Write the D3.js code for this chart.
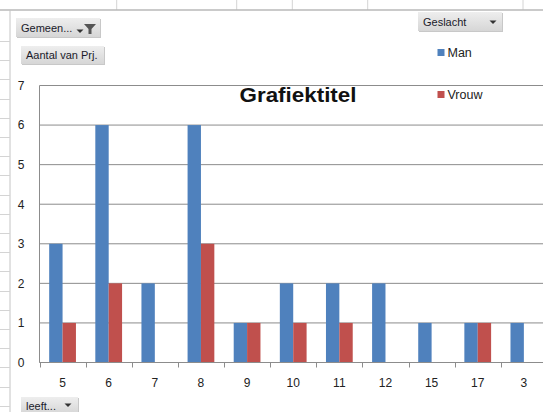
<!DOCTYPE html>
<html><head><meta charset="utf-8">
<script src="https://cdn.jsdelivr.net/npm/d3@7"></script>
<style>html,body{margin:0;padding:0;background:#fff;overflow:hidden}svg{display:block}text{font-family:"Liberation Sans",Arial,sans-serif}</style>
</head><body><svg id="c" width="543" height="412"></svg>
<script>
const categories = ["5","6","7","8","9","10","11","12","15","17","3"];
const seriesNames = ["Man","Vrouw"];
const manValues = [3,6,2,6,1,2,2,2,1,1,1];
const vrouwValues = [1,2,0,3,1,1,1,0,0,1,0];
const yTicks = [0,1,2,3,4,5,6,7];
const title = "Grafiektitel";

const colors = {Man:"#4f81bd", Vrouw:"#c0504d"};
const svg = d3.select("#c");

// spreadsheet background
const bg = svg.append("g");
[116.7,236.7,292.3,367.7,523].forEach(x=>bg.append("line").attr("x1",x).attr("x2",x).attr("y1",0).attr("y2",10).attr("stroke","#d4d4d4"));
bg.append("line").attr("x1",0).attr("x2",543).attr("y1",10).attr("y2",10).attr("stroke","#b8b8b8").attr("stroke-width",1.5);
bg.append("line").attr("x1",10).attr("x2",10).attr("y1",10).attr("y2",412).attr("stroke","#c4c4c4");
for(let y=41;y<412;y+=19.2) bg.append("line").attr("x1",0).attr("x2",10).attr("y1",Math.round(y)+0.5).attr("y2",Math.round(y)+0.5).attr("stroke","#d4d4d4");

// scales
const left = 39.5, step = 46.13, n = categories.length;
const p = 0.42;
const x0 = d3.scaleBand().domain(categories).range([left, left + step*n]).paddingInner(p).paddingOuter(p/2);
const x1 = d3.scaleBand().domain(seriesNames).range([0, x0.bandwidth()]);
const y = d3.scaleLinear().domain([0,7]).range([362.5, 85.5]);

// gridlines
svg.append("g").selectAll("line").data(yTicks).join("line")
  .attr("x1",left).attr("x2",543).attr("y1",d=>y(d)).attr("y2",d=>y(d))
  .attr("stroke","#8c8c8c").attr("stroke-width",1);
// y axis line
svg.append("line").attr("x1",left).attr("x2",left).attr("y1",y(7)).attr("y2",y(0)).attr("stroke","#8c8c8c");

// bars
const data = categories.map((c,i)=>({c, vals:[{s:"Man",v:manValues[i]},{s:"Vrouw",v:vrouwValues[i]}]}));
const g = svg.append("g").selectAll("g").data(data).join("g").attr("transform",d=>`translate(${x0(d.c)},0)`);
g.selectAll("rect").data(d=>d.vals.filter(e=>e.v>0)).join("rect")
  .attr("x",d=>x1(d.s)).attr("width",x1.bandwidth())
  .attr("y",d=>y(d.v)).attr("height",d=>y(0)-y(d.v))
  .attr("fill",d=>colors[d.s]);

// x axis line + boundary ticks
svg.append("line").attr("x1",left).attr("x2",543).attr("y1",y(0)).attr("y2",y(0)).attr("stroke","#8c8c8c");
const bounds = d3.range(n+1).map(i=>left+i*x0.step());
svg.append("g").selectAll("line").data(bounds).join("line")
  .attr("x1",d=>Math.round(d)+0.5).attr("x2",d=>Math.round(d)+0.5).attr("y1",y(0)).attr("y2",y(0)+5).attr("stroke","#8c8c8c");

// axes labels
const xa = svg.append("g").attr("transform",`translate(0,${y(0)})`)
  .call(d3.axisBottom(x0).tickSize(0).tickPadding(16));
xa.select(".domain").remove();
xa.selectAll("text").attr("font-size",12).attr("fill","#222").style("font-family","Liberation Sans, Arial, sans-serif");
const ya = svg.append("g").attr("transform",`translate(${left},0)`)
  .call(d3.axisLeft(y).tickValues(yTicks).tickFormat(d3.format("d")).tickSize(0).tickPadding(15));
ya.select(".domain").remove();
ya.selectAll("text").attr("font-size",12).attr("fill","#222").style("font-family","Liberation Sans, Arial, sans-serif");

// title
svg.append("text").attr("x",298).attr("y",101.5).attr("text-anchor","middle")
  .attr("font-size",21).attr("font-weight","bold").attr("fill","#111")
  .attr("textLength",117).attr("lengthAdjust","spacingAndGlyphs").text(title);

// legend
const legY = [49, 91];
seriesNames.forEach((s,i)=>{
  svg.append("rect").attr("x",437.5).attr("y",legY[i]).attr("width",7).attr("height",7).attr("fill",colors[s]);
  svg.append("text").attr("x",447.5).attr("y",legY[i]+8).attr("font-size",12.5).attr("fill","#222").text(s);
});

// pivot buttons
const defs = svg.append("defs");
const grad = defs.append("linearGradient").attr("id","bg").attr("x1",0).attr("x2",0).attr("y1",0).attr("y2",1);
grad.append("stop").attr("offset","0%").attr("stop-color","#eeeeee");
grad.append("stop").attr("offset","100%").attr("stop-color","#d6d6d6");
function button(x,yy,w,h,label){
  svg.append("rect").attr("x",x+1).attr("y",yy+1).attr("width",w).attr("height",h).attr("fill","#c8c8c8");
  svg.append("rect").attr("x",x).attr("y",yy).attr("width",w).attr("height",h).attr("fill","url(#bg)");
  svg.append("text").attr("x",x+5).attr("y",yy+h/2+4).attr("font-size",11).attr("fill","#1a1a2a").text(label);
}
function arrow(cx,cy){
  svg.append("path").attr("d",`M${cx-3.5},${cy-1.5}L${cx+3.5},${cy-1.5}L${cx},${cy+2}Z`).attr("fill","#333");
}
button(16,18,84,19,"Gemeen...");
arrow(80,31);
svg.append("path").attr("d","M84,24L96,24L91.5,29L91.5,34L88.5,34L88.5,29Z").attr("fill","#555");
button(21,46,83,18,"Aantal van Prj.");
button(418,12,84,19,"Geslacht");
arrow(493,22);
button(21,397,57,17,"leeft...");
arrow(68,405);
</script></body></html>
